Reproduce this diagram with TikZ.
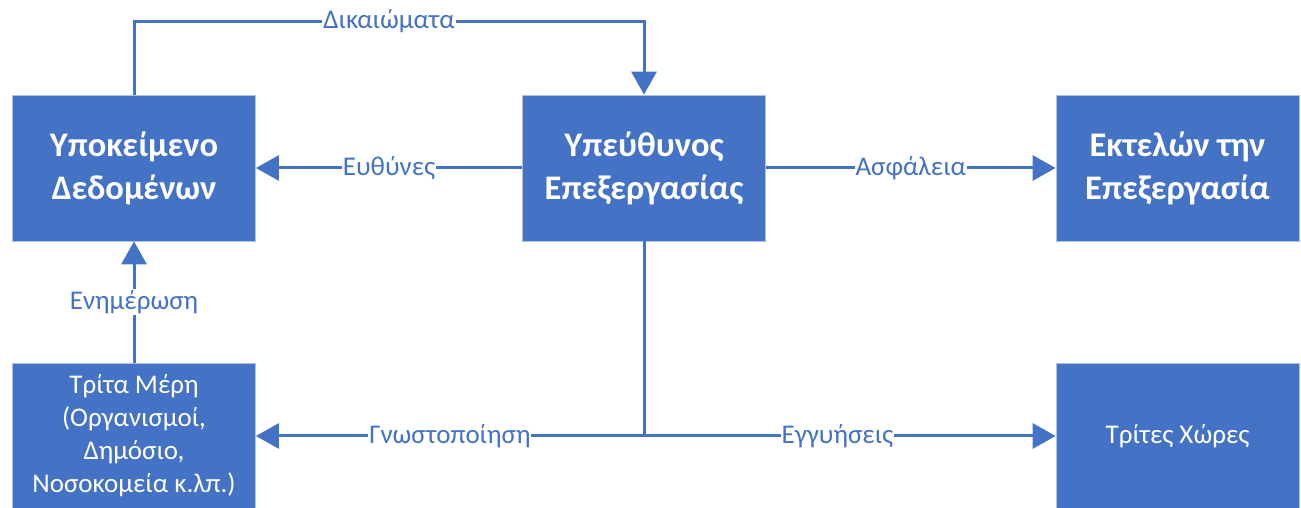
\documentclass[tikz,border=0pt]{standalone}
\usepackage{fontspec}
\setmainfont{Carlito}
\usetikzlibrary{positioning,arrows.meta}
\definecolor{accent}{HTML}{4472C4}
\definecolor{rim}{HTML}{AFC0E0}
\begin{document}
\begin{tikzpicture}[lbl/.style={fill=white,inner sep=1pt,text=accent,font=\fontsize{27}{30}\selectfont}]
    \tikzstyle{box} = [rectangle, fill=accent, draw=rim, line width=0.8pt, text=white, align=center, minimum width=243pt, minimum height=146pt, inner sep=0pt]
    \tikzstyle{main} = [box, font=\fontsize{34.5}{43}\selectfont\bfseries]
    \tikzstyle{side} = [box, font=\fontsize{27}{33}\selectfont]
    \tikzstyle{conn} = [accent, line width=3pt, -{Triangle[length=23pt,width=25pt]}]
    \useasboundingbox (0,0) rectangle (1301pt,508pt);
        \node[main] (ctrl) at (644pt,340pt) {Υπεύθυνος\\Επεξεργασίας};
        % top row
        \node[main,xshift=-510pt] (subj) at (ctrl) {Υποκείμενο\\Δεδομένων};
        \node[main,xshift=533.5pt] (proc) at (ctrl) {Εκτελών την\\Επεξεργασία};
        \draw[conn] (ctrl.west) -- node[lbl] {Ευθύνες} (subj.east);
        \draw[conn] (ctrl.east) -- node[lbl] {Ασφάλεια} (proc.west);
        \draw[conn] (subj.north) -- ++(0,73pt) -| node[lbl,pos=0.25] {Δικαιώματα} (ctrl.north);
        % bottom row
        \node[side,yshift=-268pt] (third) at (subj) {Τρίτα Μέρη\\(Οργανισμοί,\\Δημόσιο,\\Νοσοκομεία κ.λπ.)};
        \node[side,yshift=-268pt] (abroad) at (proc) {Τρίτες Χώρες};
        \draw[conn] (third.north) -- node[lbl] {Ενημέρωση} (subj.south);
        \coordinate (junc) at (ctrl.south |- third.east);
        \draw[accent,line width=3pt] (ctrl.south) -- (junc);
        \draw[conn] (junc) -- node[lbl] {Γνωστοποίηση} (third.east);
        \draw[conn] (junc) -- node[lbl,pos=0.47] {Εγγυήσεις} (abroad.west);
    \end{tikzpicture}
\end{document}
